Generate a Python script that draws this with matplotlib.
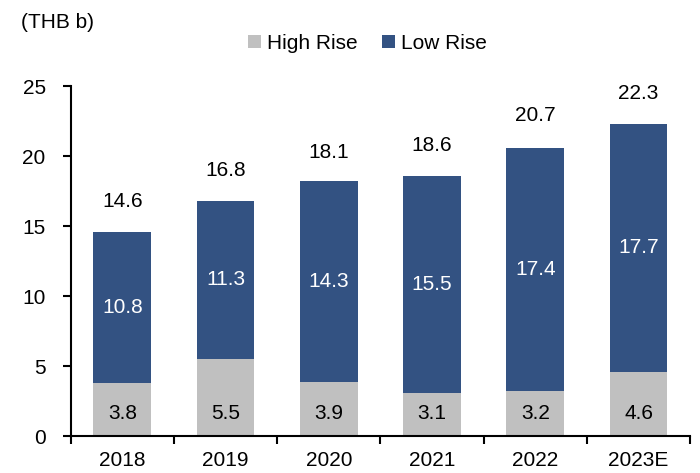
import matplotlib.pyplot as plt
import numpy as np

plt.rcParams['font.family'] = ['Liberation Sans', 'DejaVu Sans']

years = ['2018', '2019', '2020', '2021', '2022', '2023E']
high_rise = [3.8, 5.5, 3.9, 3.1, 3.2, 4.6]
low_rise = [10.8, 11.3, 14.3, 15.5, 17.4, 17.7]
totals = [14.6, 16.8, 18.1, 18.6, 20.7, 22.3]

GRAY = '#C0C0C0'
NAVY = '#335282'

fig = plt.figure(figsize=(7, 4.73), dpi=100)
ax = fig.add_axes([0.101, 0.078, 0.885, 0.74])

x = np.arange(len(years))
w = 0.56
ax.bar(x, high_rise, w, color=GRAY, label='High Rise')
ax.bar(x, low_rise, w, bottom=high_rise, color=NAVY, label='Low Rise')

fs = 15
for i in range(len(years)):
    ax.text(x[i], 1.65, f'{high_rise[i]:.1f}', ha='center', va='center',
            fontsize=fs, color='black')
    ax.text(x[i], high_rise[i] + low_rise[i] / 2, f'{low_rise[i]:.1f}',
            ha='center', va='center', fontsize=fs, color='white')
    ax.annotate(f'{totals[i]:.1f}', (x[i], totals[i]), xytext=(0, 22),
                textcoords='offset points', ha='center', va='center',
                fontsize=fs)

ax.set_xlim(-0.5, len(years) - 0.5)
ax.set_ylim(0, 25)
ax.set_yticks(range(0, 26, 5))
ax.set_xticks(x)
ax.set_xticklabels(years)
ax.set_xticks(np.arange(-0.5, len(years)), minor=True)
ax.tick_params(axis='x', which='major', length=0, pad=11, labelsize=fs)
ax.tick_params(axis='x', which='minor', length=6, width=1.5, direction='out')
ax.tick_params(axis='y', length=6, width=1.5, direction='out', pad=12,
               labelsize=fs)
for s in ('top', 'right'):
    ax.spines[s].set_visible(False)
for s in ('left', 'bottom'):
    ax.spines[s].set_linewidth(1.5)

fig.text(0.03, 0.953, '(THB b)', fontsize=fs, va='center')
fig.legend(loc='center', bbox_to_anchor=(0.525, 0.909), ncol=2, frameon=False,
           fontsize=fs, handlelength=0.6, handleheight=0.6, handletextpad=0.3,
           columnspacing=1.2)

fig.savefig('out.png', dpi=100)
